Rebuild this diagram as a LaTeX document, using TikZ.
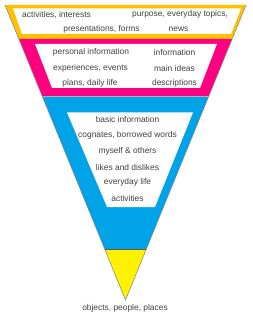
\documentclass[tikz,border=0pt]{standalone}
\usepackage{fontspec}
\setmainfont{Liberation Sans}
\definecolor{bandA}{HTML}{FFC000}
\definecolor{bandB}{HTML}{FF0080}
\definecolor{bandC}{HTML}{00A2E8}
\definecolor{bandD}{HTML}{FFF200}
\definecolor{txt}{HTML}{404040}
\begin{document}
\begin{tikzpicture}[x=1pt,y=-1pt,
  lbl/.style={font=\fontsize{8.4}{10}\selectfont,text=txt,inner sep=0pt,anchor=center},
  band/.style={draw=none},
  hole/.style={fill=white,draw=none}]
\useasboundingbox (0,0) rectangle (253,320);
% bands
\fill[bandA] (5,5) -- (246,5) -- (232.1,39) -- (18.9,39) -- cycle;
\fill[bandB] (18.9,39) -- (232.1,39) -- (208.6,96.5) -- (42.4,96.5) -- cycle;
\fill[bandC] (42.4,96.5) -- (208.6,96.5) -- (146.2,249.3) -- (104.8,249.3) -- cycle;
\fill[bandD] (104.8,249.3) -- (146.2,249.3) -- (125.5,300) -- cycle;
\draw[gray!70!black,line width=0.4pt] (104.8,249.3) -- (146.2,249.3);
\draw[gray!60,line width=0.3pt] (42.4,96.5) -- (208.6,96.5);
\draw[gray,line width=0.5pt] (5,5) -- (125.5,300) -- (246,5);
% white holes
\fill[hole] (13,8.5) -- (241,8.5) -- (231,34) -- (22,34) -- cycle;
\fill[hole] (35,44) -- (217,44) -- (200,88) -- (52,88) -- cycle;
\fill[hole] (67,112.5) -- (193,112.5) -- (155,207) -- (107,207) -- cycle;
% texts
\node[lbl] (a1) at (56.5,14.7) {activities, interests};
\node[lbl] (a2) at (180,14.7) {purpose, everyday topics,};
\node[lbl] (a3) at (101.5,29) {presentations, forms};
\node[lbl] (a4) at (178.5,29) {news};
\node[lbl] (b1) at (91,52) {personal information};
\node[lbl] (b2) at (174.5,52) {information};
\node[lbl] (b3) at (90.5,68) {experiences, events};
\node[lbl] (b4) at (174.5,68) {main ideas};
\node[lbl] (b5) at (90,83) {plans, daily life};
\node[lbl] (b6) at (174.5,83) {descriptions};
\node[lbl] (c1) at (127.5,119) {basic information};
\node[lbl] (c2) at (127.5,135) {cognates, borrowed words};
\node[lbl] (c3) at (127.5,151) {myself \& others};
\node[lbl] (c4) at (127.5,167) {likes and dislikes};
\node[lbl] (c5) at (127.5,182.5) {everyday life};
\node[lbl] (c6) at (127.5,198) {activities};
\node[lbl] (d1) at (125,308) {objects, people, places};
\end{tikzpicture}
\end{document}
